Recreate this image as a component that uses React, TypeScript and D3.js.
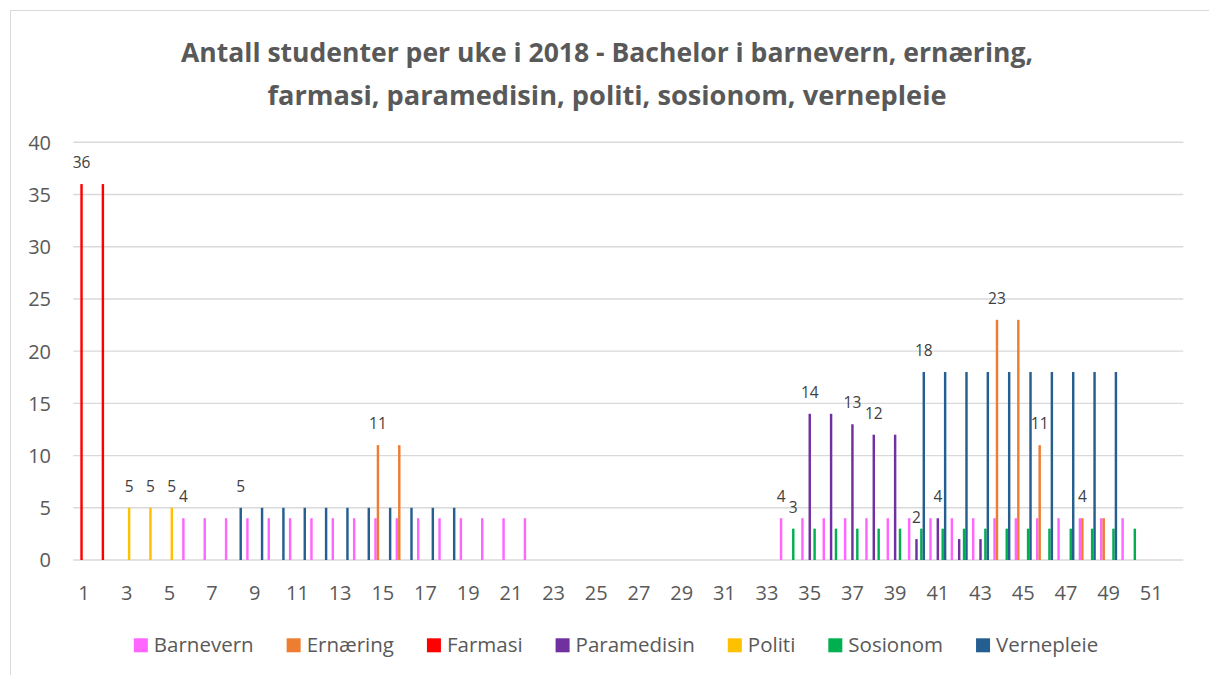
import React, { useEffect, useRef } from 'react';
import * as d3 from 'd3';

const weeks = [
  1, 2, 3, 4, 5, 6, 7, 8, 9, 10, 11, 12, 13, 14, 15, 16, 17, 18, 19, 20, 21, 22, 23, 24, 25, 26,
  27, 28, 29, 30, 31, 32, 33, 34, 35, 36, 37, 38, 39, 40, 41, 42, 43, 44, 45, 46, 47, 48, 49, 50, 51, 52,
];
const xTickLabels = [1, 3, 5, 7, 9, 11, 13, 15, 17, 19, 21, 23, 25, 27, 29, 31, 33, 35, 37, 39, 41, 43, 45, 47, 49, 51];
const yTicks = [0, 5, 10, 15, 20, 25, 30, 35, 40];

const seriesNames = ['Barnevern', 'Ernæring', 'Farmasi', 'Paramedisin', 'Politi', 'Sosionom', 'Vernepleie'];
const seriesColors = ['#FF66FF', '#ED7D31', '#FF0000', '#7030A0', '#FFC000', '#00B050', '#255E91'];

// values per week 1..52
const barnevern = [
  0, 0, 0, 0, 0, 4, 4, 4, 4, 4, 4, 4, 4, 4, 4, 4, 4, 4, 4, 4, 4, 4, 0, 0, 0, 0,
  0, 0, 0, 0, 0, 0, 0, 4, 4, 4, 4, 4, 4, 4, 4, 4, 4, 4, 4, 4, 4, 4, 4, 4, 0, 0,
];
const ernaering = [
  0, 0, 0, 0, 0, 0, 0, 0, 0, 0, 0, 0, 0, 0, 11, 11, 0, 0, 0, 0, 0, 0, 0, 0, 0, 0,
  0, 0, 0, 0, 0, 0, 0, 0, 0, 0, 0, 0, 0, 0, 0, 0, 0, 23, 23, 11, 0, 4, 4, 0, 0, 0,
];
const farmasi = [
  36, 36, 0, 0, 0, 0, 0, 0, 0, 0, 0, 0, 0, 0, 0, 0, 0, 0, 0, 0, 0, 0, 0, 0, 0, 0,
  0, 0, 0, 0, 0, 0, 0, 0, 0, 0, 0, 0, 0, 0, 0, 0, 0, 0, 0, 0, 0, 0, 0, 0, 0, 0,
];
const paramedisin = [
  0, 0, 0, 0, 0, 0, 0, 0, 0, 0, 0, 0, 0, 0, 0, 0, 0, 0, 0, 0, 0, 0, 0, 0, 0, 0,
  0, 0, 0, 0, 0, 0, 0, 0, 14, 14, 13, 12, 12, 2, 4, 2, 2, 0, 0, 0, 0, 0, 0, 0, 0, 0,
];
const politi = [
  0, 0, 5, 5, 5, 0, 0, 0, 0, 0, 0, 0, 0, 0, 0, 0, 0, 0, 0, 0, 0, 0, 0, 0, 0, 0,
  0, 0, 0, 0, 0, 0, 0, 0, 0, 0, 0, 0, 0, 0, 0, 0, 0, 0, 0, 0, 0, 0, 0, 0, 0, 0,
];
const sosionom = [
  0, 0, 0, 0, 0, 0, 0, 0, 0, 0, 0, 0, 0, 0, 0, 0, 0, 0, 0, 0, 0, 0, 0, 0, 0, 0,
  0, 0, 0, 0, 0, 0, 0, 3, 3, 3, 3, 3, 3, 3, 3, 3, 3, 3, 3, 3, 3, 3, 3, 3, 0, 0,
];
const vernepleie = [
  0, 0, 0, 0, 0, 0, 0, 5, 5, 5, 5, 5, 5, 5, 5, 5, 5, 5, 0, 0, 0, 0, 0, 0, 0, 0,
  0, 0, 0, 0, 0, 0, 0, 0, 0, 0, 0, 0, 0, 18, 18, 18, 18, 18, 18, 18, 18, 18, 18, 0, 0, 0,
];
const seriesValues = [barnevern, ernaering, farmasi, paramedisin, politi, sosionom, vernepleie];

// which bars carry a data label: [series index, week]
const labelledBars: [number, number][] = [
  [2, 1], [4, 3], [4, 4], [4, 5], [0, 6], [6, 8], [1, 15],
  [0, 34], [5, 34], [3, 35], [3, 37], [3, 38], [3, 40], [6, 40], [3, 41],
  [1, 44], [1, 46], [1, 48],
];

const titleLines = [
  'Antall studenter per uke i 2018 - Bachelor i barnevern, ernæring,',
  'farmasi, paramedisin, politi, sosionom, vernepleie',
];

const FONT = "'Open Sans', 'Noto Sans', sans-serif";

export default function App() {
  const ref = useRef<SVGSVGElement>(null);

  useEffect(() => {
    const svg = d3.select(ref.current);
    svg.selectAll('*').remove();

    const W = 1209;
    const H = 675;
    const left = 73.3;
    const right = 1183.3;
    const top = 142.3;
    const bottom = 560;

    svg.append('rect').attr('x', 0).attr('y', 0).attr('width', W).attr('height', H).attr('fill', '#fff');
    svg
      .append('rect')
      .attr('x', 10.5)
      .attr('y', 10.5)
      .attr('width', 1210)
      .attr('height', 700)
      .attr('fill', 'none')
      .attr('stroke', '#d9d9d9')
      .attr('stroke-width', 1);

    // title
    const titleWidths = [852, 679];
    titleLines.forEach((t, i) => {
      svg
        .append('text')
        .attr('x', 607)
        .attr('y', 62 + i * 43)
        .attr('text-anchor', 'middle')
        .attr('font-family', FONT)
        .attr('font-weight', 700)
        .attr('font-size', 27.5)
        .attr('fill', '#595959')
        .attr('textLength', titleWidths[i])
        .attr('lengthAdjust', 'spacingAndGlyphs')
        .text(t);
    });

    const x0 = d3.scaleBand<number>().domain(weeks).range([left, right]).paddingInner(0.2).paddingOuter(0.1);
    const x1 = d3
      .scaleBand<number>()
      .domain(d3.range(seriesNames.length))
      .range([0, x0.bandwidth()])
      .padding(0);
    const y = d3.scaleLinear().domain([0, 40]).range([bottom, top]);

    // gridlines
    svg
      .append('g')
      .selectAll('line')
      .data(yTicks)
      .join('line')
      .attr('x1', left)
      .attr('x2', right)
      .attr('y1', (d) => y(d))
      .attr('y2', (d) => y(d))
      .attr('stroke', '#d9d9d9')
      .attr('stroke-width', 1.4);

    // y labels
    svg
      .append('g')
      .selectAll('text')
      .data(yTicks)
      .join('text')
      .attr('x', 51)
      .attr('y', (d) => y(d) + 7.4)
      .attr('text-anchor', 'end')
      .attr('font-family', FONT)
      .attr('font-size', 20)
      .attr('fill', '#595959')
      .text((d) => String(d));

    // x labels
    svg
      .append('g')
      .selectAll('text')
      .data(xTickLabels)
      .join('text')
      .attr('x', (d) => (x0(d) as number) + x0.bandwidth() / 2)
      .attr('y', 600)
      .attr('text-anchor', 'middle')
      .attr('font-family', FONT)
      .attr('font-size', 20)
      .attr('fill', '#595959')
      .text((d) => String(d));

    // bars
    seriesValues.forEach((vals, si) => {
      const pts = weeks.map((w, i) => ({ w, v: vals[i] })).filter((p) => p.v > 0);
      svg
        .append('g')
        .selectAll('rect')
        .data(pts)
        .join('rect')
        .attr('x', (p) => (x0(p.w) as number) + (x1(si) as number))
        .attr('width', x1.bandwidth())
        .attr('y', (p) => y(p.v))
        .attr('height', (p) => y(0) - y(p.v))
        .attr('fill', seriesColors[si]);
    });

    // data labels
    svg
      .append('g')
      .selectAll('text')
      .data(labelledBars)
      .join('text')
      .attr('x', ([si, w]) => (x0(w) as number) + (x1(si) as number) + x1.bandwidth() / 2)
      .attr('y', ([si, w]) => y(seriesValues[si][weeks.indexOf(w)]) - 16)
      .attr('text-anchor', 'middle')
      .attr('font-family', FONT)
      .attr('font-size', 15.5)
      .attr('fill', '#404040')
      .text(([si, w]) => String(seriesValues[si][weeks.indexOf(w)]));

    // legend
    const lg = svg.append('g');
    const sq = 14;
    const gapText = 6;
    const gapItem = 33;
    let cx = 0;
    const items: { g: d3.Selection<SVGGElement, unknown, null, undefined>; x: number }[] = [];
    seriesNames.forEach((name, i) => {
      const g = lg.append('g');
      g.append('rect').attr('x', 0).attr('y', 638.3).attr('width', sq).attr('height', sq).attr('fill', seriesColors[i]);
      const t = g
        .append('text')
        .attr('x', sq + gapText)
        .attr('y', 652.3)
        .attr('font-family', FONT)
        .attr('font-size', 20.5)
        .attr('fill', '#595959')
        .text(name);
      const tw = (t.node() as SVGTextElement).getComputedTextLength();
      items.push({ g, x: cx });
      cx += sq + gapText + tw + gapItem;
    });
    const total = cx - gapItem;
    const startX = 616 - total / 2;
    items.forEach((it) => it.g.attr('transform', `translate(${startX + it.x},0)`));
  }, []);

  return (
    <svg
      ref={ref}
      width={1209}
      height={675}
      style={{ position: 'absolute', left: 0, top: 0, display: 'block' }}
    />
  );
}
